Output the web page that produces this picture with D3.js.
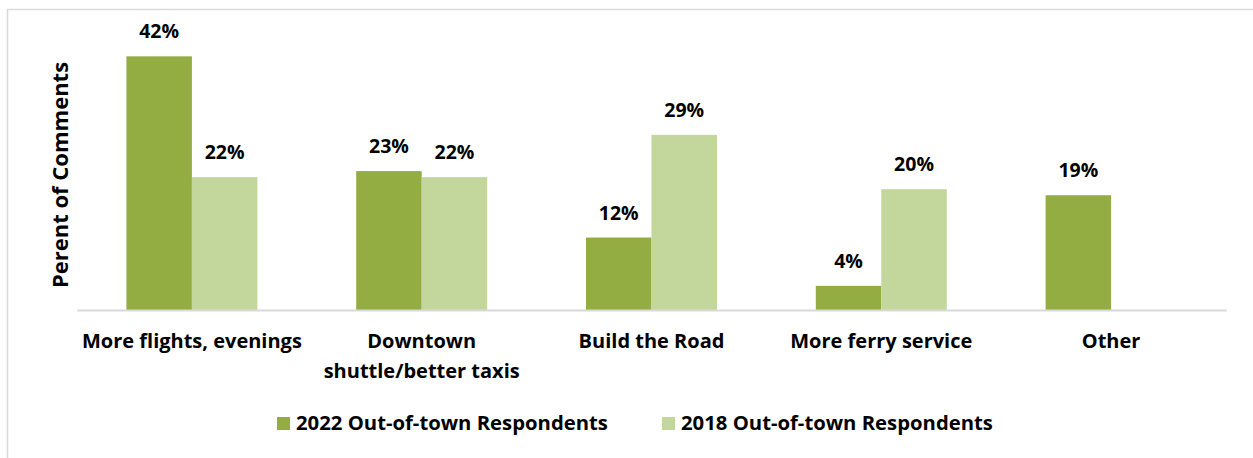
<!DOCTYPE html>
<html>
<head>
<meta charset="utf-8">
<script src="https://cdn.jsdelivr.net/npm/d3@7"></script>
<style>
  html, body { margin: 0; padding: 0; background: #fff; }
  svg { display: block; }
  text { font-family: "Open Sans", Lato, sans-serif; font-weight: bold; fill: #000; }
</style>
</head>
<body>
<svg id="chart" width="1253" height="458"></svg>
<script>
// Categories (multi-line labels split on "|")
const categories = ["More flights, evenings", "Downtown|shuttle/better taxis", "Build the Road", "More ferry service", "Other"];
const seriesNames = ["2022 Out-of-town Respondents", "2018 Out-of-town Respondents"];
const values2022 = [42, 23, 12, 4, 19];
const values2018 = [22, 22, 29, 20, null];
const seriesColors = ["#94AD43", "#C3D69B"];

const svg = d3.select("#chart");
const W = 1253, H = 458;

// chart frame
svg.append("rect")
  .attr("x", 7.5).attr("y", 9.5)
  .attr("width", W + 10).attr("height", H + 10)
  .attr("fill", "none").attr("stroke", "#d9d9d9").attr("stroke-width", 1.5);

const plot = { left: 77, right: 1226, top: 8, bottom: 310 };

const x0 = d3.scaleBand()
  .domain(categories)
  .range([plot.left, plot.right])
  .paddingInner(0.43)
  .paddingOuter(0.215);

const x1 = d3.scaleBand()
  .domain(seriesNames)
  .range([0, x0.bandwidth()])
  .padding(0);

const y = d3.scaleLinear().domain([0, 50]).range([plot.bottom, plot.top]);

const rows = categories.map((c, i) => ({
  cat: c,
  vals: [values2022[i], values2018[i]]
}));

const groups = svg.append("g").selectAll("g")
  .data(rows).join("g")
  .attr("transform", d => `translate(${x0(d.cat)},0)`);

const cells = groups.selectAll("g.cell")
  .data(d => d.vals.map((v, j) => ({ v, s: seriesNames[j], j })).filter(e => e.v != null))
  .join("g").attr("class", "cell");

cells.append("rect")
  .attr("x", d => x1(d.s))
  .attr("y", d => y(d.v))
  .attr("width", x1.bandwidth())
  .attr("height", d => y(0) - y(d.v))
  .attr("fill", d => seriesColors[d.j]);

cells.append("text")
  .attr("x", d => x1(d.s) + x1.bandwidth() / 2)
  .attr("y", d => y(d.v) - 18)
  .attr("text-anchor", "middle")
  .attr("font-size", 19.5)
  .text(d => d.v + "%");

// baseline axis
const xAxis = d3.axisBottom(x0).tickSize(0).tickFormat("");
const axisG = svg.append("g").attr("transform", `translate(0,${plot.bottom})`).call(xAxis);
axisG.select(".domain").attr("stroke", "#d9d9d9").attr("stroke-width", 2);

// category labels
const catLabels = svg.append("g").selectAll("text")
  .data(categories).join("text")
  .attr("x", d => x0(d) + x0.bandwidth() / 2)
  .attr("y", 348)
  .attr("text-anchor", "middle")
  .attr("font-size", 20);
catLabels.each(function (d) {
  const parts = d.split("|");
  d3.select(this).selectAll("tspan").data(parts).join("tspan")
    .attr("x", x0(d) + x0.bandwidth() / 2)
    .attr("dy", (p, i) => i === 0 ? 0 : 30)
    .text(p => p);
});

// y-axis title
svg.append("text")
  .attr("transform", "translate(68,175) rotate(-90)")
  .attr("text-anchor", "middle")
  .attr("font-size", 22)
  .text("Perent of Comments");

// legend
const legendX = [277, 662];
const legend = svg.append("g").selectAll("g")
  .data(seriesNames).join("g")
  .attr("transform", (d, i) => `translate(${legendX[i]},417)`);
legend.append("rect")
  .attr("width", 13).attr("height", 13)
  .attr("fill", (d, i) => seriesColors[i]);
legend.append("text")
  .attr("x", 19).attr("y", 13)
  .attr("font-size", 20.3)
  .text(d => d);
</script>
</body>
</html>
